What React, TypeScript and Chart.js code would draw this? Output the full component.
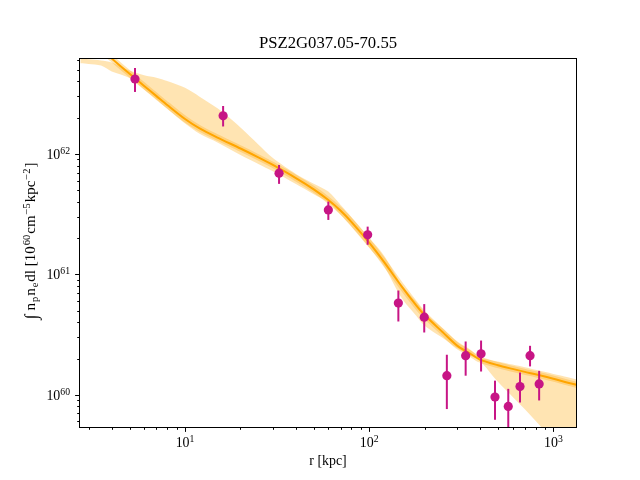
import React, { useEffect, useRef } from "react";
import { Chart, registerables } from "chart.js";

Chart.register(...registerables);

// ---- data ----
const titleText = "PSZ2G037.05-70.55";
const xTitle = "r [kpc]";

const pointR = [5.35, 16.1, 32.4, 60.0, 98.1, 144, 199, 264, 334, 405, 482, 569, 659, 747, 837];
const pointV = [4.19e62, 2.07e62, 6.92e61, 3.43e61, 2.13e61, 5.77e60, 4.41e60, 1.44e60, 2.11e60, 2.19e60, 9.57e59, 8.0e59, 1.17e60, 2.11e60, 1.23e60];
const pointHi = [5.17e62, 2.5e62, 8.1e61, 4.02e61, 2.49e61, 7.34e60, 5.66e60, 2.15e60, 2.77e60, 2.82e60, 1.31e60, 1.12e60, 1.53e60, 2.55e60, 1.58e60];
const pointLo = [3.27e62, 1.69e62, 5.64e61, 2.83e61, 1.76e61, 4.06e60, 3.29e60, 7.61e59, 1.44e60, 1.56e60, 6.2e59, 5.2e59, 8.63e59, 1.72e60, 8.97e59];

const modelR = [2.7, 3, 3.5, 4, 5, 6, 7, 8, 10, 12, 15, 20, 25, 30, 40, 50, 60, 70, 80, 100, 120, 150, 180, 200, 250, 300, 350, 400, 500, 600, 700, 800, 1000, 1200, 1400];
const modelLine = [1.031e63, 8.93e62, 7.35e62, 6.19e62, 4.63e62, 3.67e62, 3.02e62, 2.55e62, 1.95e62, 1.63e62, 1.368e62, 1.109e62, 9.37e61, 8.1e61, 6.3e61, 5.08e61, 4.14e61, 3.37e61, 2.73e61, 1.833e61, 1.275e61, 7.95e60, 5.53e60, 4.59e60, 3.32e60, 2.56e60, 2.22e60, 1.96e60, 1.76e60, 1.64e60, 1.55e60, 1.48e60, 1.36e60, 1.26e60, 1.19e60];
const bandUpper = [6.17e62, 6.11e62, 5.97e62, 5.75e62, 4.93e62, 4.51e62, 4.3e62, 4.03e62, 3.54e62, 2.99e62, 2.39e62, 1.66e62, 1.2e62, 9.23e61, 6.82e61, 5.66e61, 4.87e61, 3.77e61, 3.0e61, 2.01e61, 1.44e61, 8.18e60, 5.91e60, 4.84e60, 3.56e60, 2.78e60, 2.4e60, 2.04e60, 1.89e60, 1.78e60, 1.69e60, 1.61e60, 1.49e60, 1.4e60, 1.32e60];
const bandLower = [5.66e62, 5.58e62, 5.41e62, 4.84e62, 4.27e62, 3.43e62, 2.83e62, 2.37e62, 1.79e62, 1.47e62, 1.245e62, 9.81e61, 8.26e61, 7.17e61, 5.62e61, 4.63e61, 3.95e61, 3.12e61, 2.48e61, 1.66e61, 1.18e61, 6.35e60, 4.53e60, 3.74e60, 2.97e60, 2.44e60, 2.13e60, 1.9e60, 1.28e60, 9.62e59, 7.59e59, 6.09e59, 4.15e59, 3.06e59, 2.39e59];

const xRange = [2.69, 1327];
const yRange = [5.4e59, 6.14e62];

const xMajorTicks = [10, 100, 1000];
const xMajorExp = ["1", "2", "3"];
const xMinorTicks = [3, 4, 5, 6, 7, 8, 9, 20, 30, 40, 50, 60, 70, 80, 90, 200, 300, 400, 500, 600, 700, 800, 900];
const yMajorTicks = [1e60, 1e61, 1e62];
const yMajorExp = ["60", "61", "62"];
const yMinorTicks = [6e59, 7e59, 8e59, 9e59, 2e60, 3e60, 4e60, 5e60, 6e60, 7e60, 8e60, 9e60, 2e61, 3e61, 4e61, 5e61, 6e61, 7e61, 8e61, 9e61, 2e62, 3e62, 4e62, 5e62, 6e62];

// ---- styles ----
const FONT = '"Liberation Serif", "DejaVu Serif", serif';
const BASE = 13.9;
const POINT_COLOR = "#C71585";
const LINE_COLOR = "#FFA500";
const BAND_COLOR = "rgba(255,165,0,0.3)";

type Seg = { t: string; k: "n" | "sup" | "sub" | "big" };

function drawRich(
  ctx: CanvasRenderingContext2D,
  segs: Seg[],
  x: number,
  y: number,
  align: "left" | "center" | "right",
  base: number,
  gap: number
) {
  const small = base * 0.7;
  const fontOf = (k: Seg["k"]) =>
    k === "sup" || k === "sub" ? `${small}px ${FONT}` : k === "big" ? `${base * 1.2}px ${FONT}` : `${base}px ${FONT}`;
  ctx.textAlign = "left";
  ctx.textBaseline = "alphabetic";
  const widths = segs.map((s) => {
    ctx.font = fontOf(s.k);
    return ctx.measureText(s.t).width;
  });
  const total = widths.reduce((a, b) => a + b, 0) + gap * (segs.length - 1);
  let cx = align === "left" ? x : align === "center" ? x - total / 2 : x - total;
  segs.forEach((s, i) => {
    ctx.font = fontOf(s.k);
    let dy = 0;
    if (s.k === "sup") dy = -base * 0.36;
    if (s.k === "sub") dy = base * 0.22;
    if (s.k === "big") dy = base * 0.12;
    ctx.fillText(s.t, cx, y + dy);
    cx += widths[i] + gap;
  });
}

const decor = {
  id: "decor",
  beforeDatasetDraw(chart: any, args: any) {
    if (args.index !== 0) return;
    const ctx: CanvasRenderingContext2D = chart.ctx;
    const xs = chart.scales.x;
    const ys = chart.scales.y;
    const a = chart.chartArea;
    ctx.save();
    ctx.beginPath();
    ctx.rect(a.left, a.top, a.right - a.left, a.bottom - a.top);
    ctx.clip();
    ctx.strokeStyle = POINT_COLOR;
    ctx.lineWidth = 2;
    for (let i = 0; i < pointR.length; i++) {
      const px = xs.getPixelForValue(pointR[i]);
      ctx.beginPath();
      ctx.moveTo(px, ys.getPixelForValue(pointHi[i]));
      ctx.lineTo(px, ys.getPixelForValue(pointLo[i]));
      ctx.stroke();
    }
    ctx.restore();
  },
  afterDraw(chart: any) {
    const ctx: CanvasRenderingContext2D = chart.ctx;
    const xs = chart.scales.x;
    const ys = chart.scales.y;
    const a = chart.chartArea;
    ctx.save();
    ctx.strokeStyle = "#000";
    ctx.fillStyle = "#000";
    ctx.lineWidth = 1;
    ctx.strokeRect(Math.round(a.left) - 0.5, Math.round(a.top) - 0.5, Math.round(a.right - a.left) + 1, Math.round(a.bottom - a.top) + 1);

    const majorLen = 4.9;
    const minorLen = 2.8;
    ctx.beginPath();
    xMajorTicks.forEach((v) => {
      const px = Math.round(xs.getPixelForValue(v)) + 0.5;
      ctx.moveTo(px, a.bottom);
      ctx.lineTo(px, a.bottom + majorLen);
    });
    xMinorTicks.forEach((v) => {
      const px = Math.round(xs.getPixelForValue(v)) + 0.5;
      ctx.moveTo(px, a.bottom);
      ctx.lineTo(px, a.bottom + minorLen);
    });
    yMajorTicks.forEach((v) => {
      const py = Math.round(ys.getPixelForValue(v)) + 0.5;
      ctx.moveTo(a.left, py);
      ctx.lineTo(a.left - majorLen, py);
    });
    yMinorTicks.forEach((v) => {
      const py = Math.round(ys.getPixelForValue(v)) + 0.5;
      ctx.moveTo(a.left, py);
      ctx.lineTo(a.left - minorLen, py);
    });
    ctx.stroke();

    xMajorTicks.forEach((v, i) => {
      const px = xs.getPixelForValue(v);
      drawRich(ctx, [{ t: "10", k: "n" }, { t: xMajorExp[i], k: "sup" }], px, a.bottom + 20, "center", BASE, 0);
    });
    yMajorTicks.forEach((v, i) => {
      const py = ys.getPixelForValue(v);
      drawRich(ctx, [{ t: "10", k: "n" }, { t: yMajorExp[i], k: "sup" }], a.left - 10, py + 5, "right", BASE, 0);
    });

    // title
    ctx.font = `16.7px ${FONT}`;
    ctx.textAlign = "center";
    ctx.textBaseline = "alphabetic";
    ctx.fillText(titleText, (a.left + a.right) / 2, 48);

    // x title
    ctx.font = `${BASE}px ${FONT}`;
    ctx.fillText(xTitle, (a.left + a.right) / 2, 465);

    // y title
    ctx.save();
    ctx.translate(35, (a.top + a.bottom) / 2 - 2);
    ctx.rotate(-Math.PI / 2);
    drawRich(
      ctx,
      [
        { t: "∫", k: "big" },
        { t: "\u2009n", k: "n" },
        { t: "p", k: "sub" },
        { t: "n", k: "n" },
        { t: "e", k: "sub" },
        { t: "dl [10", k: "n" },
        { t: "60", k: "sup" },
        { t: "cm", k: "n" },
        { t: "−5", k: "sup" },
        { t: "kpc", k: "n" },
        { t: "−2", k: "sup" },
        { t: "]", k: "n" },
      ],
      0,
      0,
      "center",
      15,
      1
    );
    ctx.restore();
    ctx.restore();
  },
};

export default function App() {
  const ref = useRef<HTMLCanvasElement | null>(null);
  useEffect(() => {
    if (!ref.current) return;
    const pts = pointR.map((r, i) => ({ x: r, y: pointV[i] }));
    const line = modelR.map((r, i) => ({ x: r, y: modelLine[i] }));
    const up = modelR.map((r, i) => ({ x: r, y: bandUpper[i] }));
    const lo = modelR.map((r, i) => ({ x: r, y: bandLower[i] }));
    const curve = { pointRadius: 0, tension: 0.3, fill: false };
    const chart = new Chart(ref.current, {
      type: "line",
      data: {
        datasets: [
          {
            data: pts,
            showLine: false,
            pointRadius: 4.6,
            pointBackgroundColor: POINT_COLOR,
            pointBorderWidth: 0,
            borderColor: POINT_COLOR,
            order: 0,
          },
          { ...curve, data: line, borderColor: LINE_COLOR, borderWidth: 2, order: 1 },
          { ...curve, data: line, borderColor: BAND_COLOR, borderWidth: 6, order: 2 },
          { ...curve, data: up, borderWidth: 0, borderColor: "rgba(0,0,0,0)", order: 3 },
          {
            ...curve,
            data: lo,
            borderWidth: 0,
            borderColor: "rgba(0,0,0,0)",
            backgroundColor: BAND_COLOR,
            fill: "-1",
            order: 4,
          },
        ] as any,
      },
      options: {
        animation: false,
        responsive: false,
        devicePixelRatio: 1,
        layout: { padding: { left: 0, right: 64, top: 59, bottom: 0 } },
        plugins: { legend: { display: false }, tooltip: { enabled: false }, title: { display: false } },
        scales: {
          x: {
            type: "logarithmic",
            min: xRange[0],
            max: xRange[1],
            grid: { display: false },
            border: { display: false },
            ticks: { display: false },
            afterFit: (s: any) => {
              s.height = 53;
            },
          },
          y: {
            type: "logarithmic",
            min: yRange[0],
            max: yRange[1],
            grid: { display: false },
            border: { display: false },
            ticks: { display: false },
            afterFit: (s: any) => {
              s.width = 80;
            },
          },
        },
      } as any,
      plugins: [decor],
    });
    return () => chart.destroy();
  }, []);
  return (
    <div style={{ position: "absolute", left: 0, top: 0, width: 640, height: 480, background: "#fff" }}>
      <canvas ref={ref} width={640} height={480} />
    </div>
  );
}
